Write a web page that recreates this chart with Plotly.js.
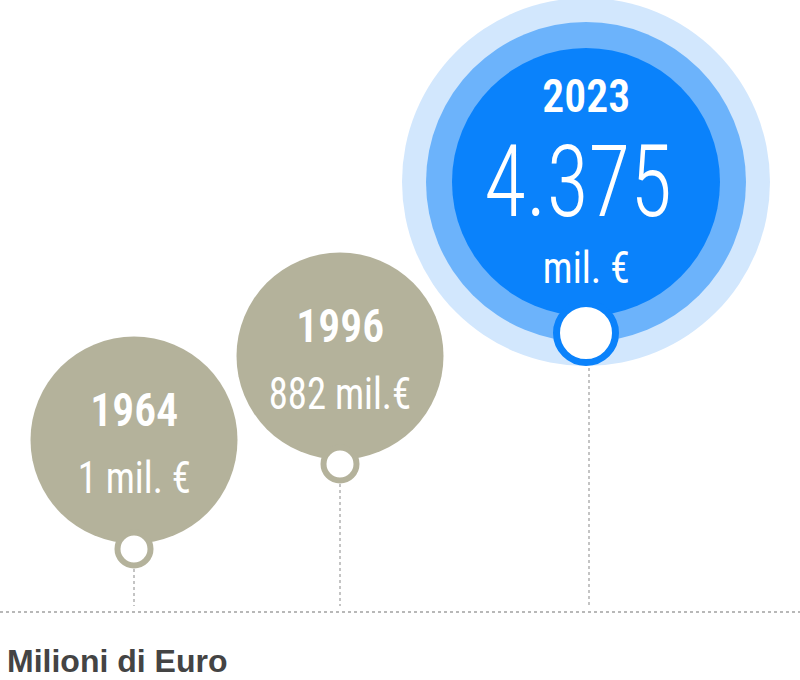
<!DOCTYPE html>
<html>
<head>
<meta charset="utf-8">
<script src="https://cdn.plot.ly/plotly-3.0.1.min.js"></script>
<style>html,body{margin:0;padding:0;background:#fff}#chart{width:800px;height:680px}</style>
</head>
<body>
<div id="chart"></div>
<script>
// ---- data ----
const years = ['1964', '1996', '2023'];
const values = [1, 882, 4375];
const valueLabels = ['1 mil. €', '882 mil.€', '4.375'];
const unitLabel = 'mil. €';
const axisTitle = 'Milioni di Euro';

// ---- layout helpers (pixel-like canvas axes) ----
const xPos = [134, 340, 586];
const yPos = [440, 356, 182];
const pinY = [549, 464, 333];
const FONT = '"Roboto Condensed","Liberation Sans Narrow","DejaVu Sans Condensed",Roboto,sans-serif';
const gray = '#b4b29b';
const blue = '#0a82fb';

const traces = [];
// baseline dotted
traces.push({x:[0,800], y:[612,612], mode:'lines', line:{color:'#b8b8b8', width:2, dash:'dot'}, hoverinfo:'skip'});
// stems
years.forEach((y,i)=>{
  const sx = xPos[i] + (i==2 ? 3 : 0);
  traces.push({x:[sx, sx], y:[pinY[i]+(i==2?35:20), 606], mode:'lines',
    line:{color:'#c4c4c4', width:2, dash:'dot'}, hoverinfo:'skip'});
});
// blue halo rings for latest
traces.push({x:[xPos[2]], y:[yPos[2]], mode:'markers', marker:{size:368, color:'#d2e7fd', opacity:1, line:{width:0}}, hoverinfo:'skip'});
traces.push({x:[xPos[2]], y:[yPos[2]], mode:'markers', marker:{size:320, color:'#6cb3fb', opacity:1, line:{width:0}}, hoverinfo:'skip'});
// main bubbles
traces.push({x:xPos, y:yPos, mode:'markers',
  marker:{size:[207,207,268], color:[gray,gray,blue], opacity:1, line:{width:0}}, hoverinfo:'skip'});
// pins
traces.push({x:xPos, y:pinY, mode:'markers',
  marker:{size:[33,33,59], color:'#ffffff', opacity:1, line:{width:[6,6,7], color:[gray,gray,blue]}}, hoverinfo:'skip'});

const ann = [];
const squeeze = [];
// old bubbles
[0,1].forEach(i=>{
  ann.push({x:xPos[i], y:yPos[i]-30, text:years[i], showarrow:false, font:{family:FONT, size:46, weight:600, color:'#fff'}}); squeeze.push(0.95);
  ann.push({x:xPos[i], y:yPos[i]+38, text:valueLabels[i], showarrow:false, font:{family:FONT, size:44, weight:400, color:'#fff'}}); squeeze.push(0.88);
});
ann.push({x:xPos[2], y:96, text:years[2], showarrow:false, font:{family:FONT, size:46, weight:600, color:'#fff'}}); squeeze.push(0.95);
ann.push({x:xPos[2]-8, y:181, text:valueLabels[2], showarrow:false, font:{family:FONT, size:100, weight:300, color:'#fff'}}); squeeze.push(0.86);
ann.push({x:xPos[2], y:268, text:unitLabel, showarrow:false, font:{family:FONT, size:44, weight:400, color:'#fff'}}); squeeze.push(0.9);
ann.push({x:5, y:661, xanchor:'left', text:'<b>'+axisTitle+'</b>', showarrow:false, font:{family:'Liberation Sans, Arial, sans-serif', size:32, color:'#444'}}); squeeze.push(1);

Plotly.newPlot('chart', traces, {
  width:800, height:680, margin:{l:0,r:0,t:0,b:0},
  paper_bgcolor:'#fff', plot_bgcolor:'#fff', showlegend:false,
  xaxis:{range:[0,800], visible:false, fixedrange:true},
  yaxis:{range:[680,0], visible:false, fixedrange:true},
  annotations:ann
}, {displayModeBar:false, staticPlot:true}).then(gd=>{
  squeeze.forEach((s,i)=>{
    if (s === 1) return;
    const t = gd.querySelector('g.annotation[data-index="'+i+'"] text.annotation-text');
    if (t) {
      t.style.transformBox = 'fill-box';
      t.style.transformOrigin = 'center';
      t.style.transform = 'scaleX('+s+')';
    }
  });
});
</script>
</body>
</html>
